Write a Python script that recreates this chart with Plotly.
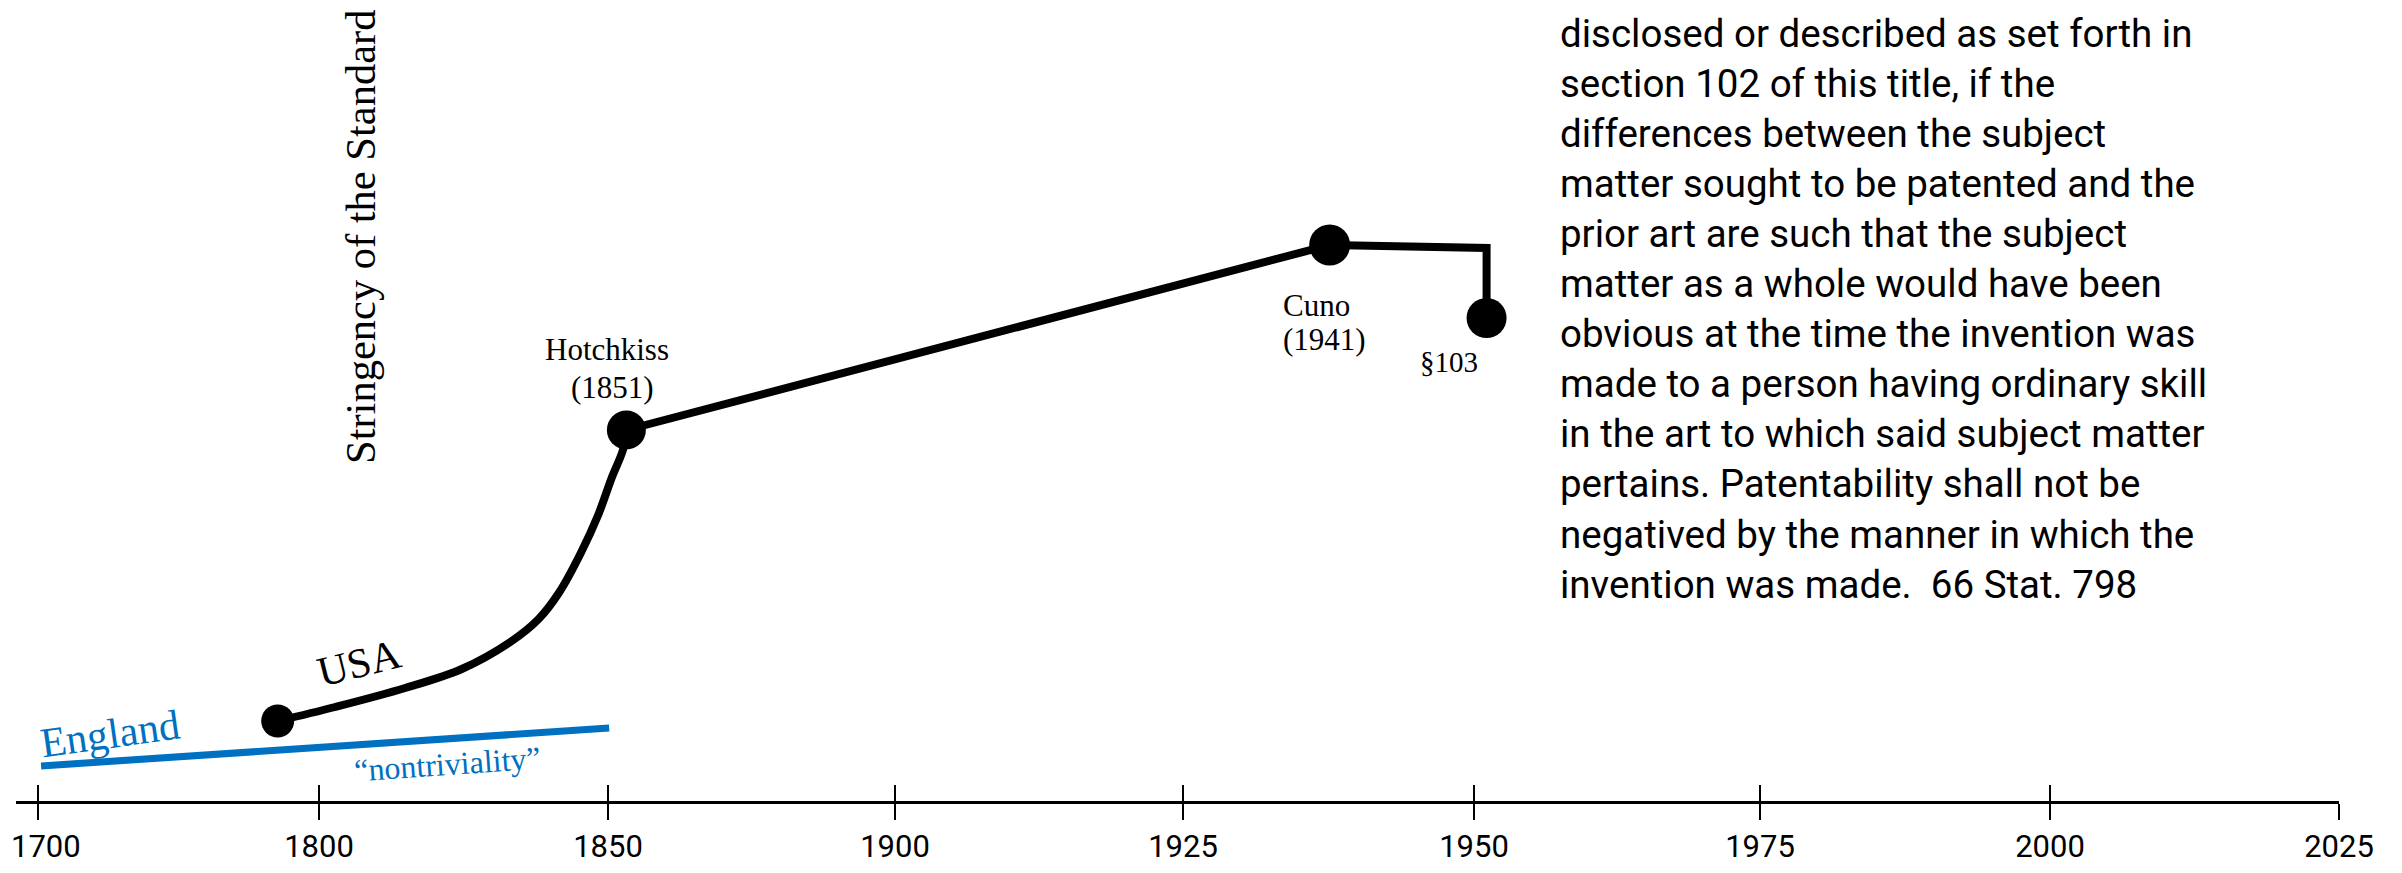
import numpy as np
import plotly.graph_objects as go

# ---------------- data ----------------
tick_years = [1700, 1800, 1850, 1900, 1925, 1950, 1975, 2000, 2025]
tick_labels = ["1700", "1800", "1850", "1900", "1925", "1950", "1975", "2000", "2025"]

# USA curve (stringency, arbitrary units)
usa_years = [1785.3, 1802.8, 1814.9, 1824.7, 1833.1, 1838.0, 1841.6, 1845.3, 1848.3, 1850.7, 1852.6, 1853.2]
usa_stringency = [79, 93, 112, 131, 158, 181, 208, 247, 285, 323, 350, 370]

# Cases: Hotchkiss -> Cuno -> flat -> §103
case_years = [1853.2, 1937.6, 1951.1, 1951.1]
case_stringency = [370, 555, 552, 482]

# Dots: start of US law, Hotchkiss, Cuno, §103
dot_years = [1785.3, 1853.2, 1937.6, 1951.1]
dot_stringency = [79, 370, 555, 482]
dot_sizes = [33, 39, 41, 40]

# England line
eng_years = [1701.1, 1850.2]
eng_stringency = [34, 72]

statute_lines = [
    "disclosed or described as set forth in",
    "section 102 of this title, if the",
    "differences between the subject",
    "matter sought to be patented and the",
    "prior art are such that the subject",
    "matter as a whole would have been",
    "obvious at the time the invention was",
    "made to a person having ordinary skill",
    "in the art to which said subject matter",
    "pertains. Patentability shall not be",
    "negatived by the manner in which the",
    "invention was made.  66 Stat. 798",
]

# ---------------- scale: each tick interval drawn with its own width ----------------
OFF = 8                      # page body margin
W, H = 2402 - 2 * OFF, 873 - 2 * OFF
AX_L, AX_R = 16, 2339        # axis line extent (page px)
AX_Y = 801                   # axis line (page px)
tick_px = [38, 319, 608, 895, 1183, 1474, 1760, 2050, 2339]


def xs(years):
    return list(np.interp(years, tick_years, tick_px))


def sy(py):
    return 800 - py


ML = AX_L - OFF
MR = W - (AX_R - OFF)
MT = 0
MB = H - (AX_Y - OFF)
y_range = [sy(AX_Y), sy(OFF)]
PLOT_W = AX_R - AX_L
PLOT_H = AX_Y - OFF


def paper_x(px):
    return (px - AX_L) / PLOT_W


def paper_y(py):
    return (AX_Y - py) / PLOT_H


SERIF = "Liberation Serif, Times New Roman, serif"
SANS = "Roboto, sans-serif"
BLUE = "#0070C0"

fig = go.Figure()

fig.add_trace(go.Scatter(x=xs(eng_years), y=eng_stringency, mode="lines",
                         line=dict(color=BLUE, width=7), hoverinfo="skip", showlegend=False))
fig.add_trace(go.Scatter(x=xs(usa_years), y=usa_stringency, mode="lines",
                         line=dict(color="black", width=8, shape="spline", smoothing=1.0),
                         hoverinfo="skip", showlegend=False))
fig.add_trace(go.Scatter(x=xs(case_years), y=case_stringency, mode="lines",
                         line=dict(color="black", width=8), hoverinfo="skip", showlegend=False))
fig.add_trace(go.Scatter(x=xs(dot_years), y=dot_stringency, mode="markers",
                         marker=dict(color="black", size=dot_sizes, opacity=1, line=dict(width=0)),
                         hoverinfo="skip", showlegend=False))
# dummy trace for the overlaid axis carrying the upper half of the ticks
fig.add_trace(go.Scatter(x=[None], y=[None], xaxis="x2", mode="lines",
                         hoverinfo="skip", showlegend=False))

ann = []


def label(text, px, py, size, color="black", font=SERIF, angle=0, xanchor="center"):
    ann.append(dict(x=paper_x(px), y=paper_y(py), xref="paper", yref="paper", text=text,
                    showarrow=False, font=dict(family=font, size=size, color=color),
                    textangle=angle, xanchor=xanchor, yanchor="middle"))


label("Stringency of the Standard", 360, 237, 42.5, angle=-90)
label("Hotchkiss", 607, 350, 31)
label("(1851)", 612, 387, 31)
label("Cuno", 1281, 305, 31, xanchor="left")
label("(1941)", 1281, 339, 31, xanchor="left")
label("§103", 1449, 362, 29)
label("USA", 359, 663, 42, angle=-14)
label("England", 110, 734, 42, color=BLUE, angle=-8)
label("\u201cnontriviality\u201d", 447, 764, 32, color=BLUE, angle=-4)

# first tick label kept inside the page edge
label(tick_labels[0], OFF + 1, 846, 31, font=SANS, xanchor="left")
axis_ticktext = [""] + tick_labels[1:]

for i, line in enumerate(statute_lines):
    label(line, 1558, 33 + 50.1 * i, 38.5, font=SANS, xanchor="left")

fig.update_layout(
    width=W, height=H,
    margin=dict(l=ML, r=MR, t=MT, b=MB, pad=0),
    paper_bgcolor="white", plot_bgcolor="white",
    showlegend=False,
    annotations=ann,
    xaxis=dict(range=[AX_L, AX_R], tickmode="array", tickvals=tick_px, ticktext=axis_ticktext,
               ticks="outside", ticklen=16, tickwidth=2, tickcolor="black",
               showline=True, linecolor="black", linewidth=3,
               showgrid=False, zeroline=False, automargin=False, fixedrange=True,
               ticklabeloverflow="allow",
               tickfont=dict(family=SANS, size=31, color="black")),
    xaxis2=dict(overlaying="x", anchor="y", side="bottom", range=[AX_L, AX_R],
                tickmode="array", tickvals=tick_px, ticks="inside", ticklen=16, tickwidth=2,
                tickcolor="black", showticklabels=False, showline=False, showgrid=False,
                zeroline=False, automargin=False, fixedrange=True),
    yaxis=dict(range=y_range, visible=False, showgrid=False, zeroline=False, fixedrange=True),
)

fig.write_html("out.html")
